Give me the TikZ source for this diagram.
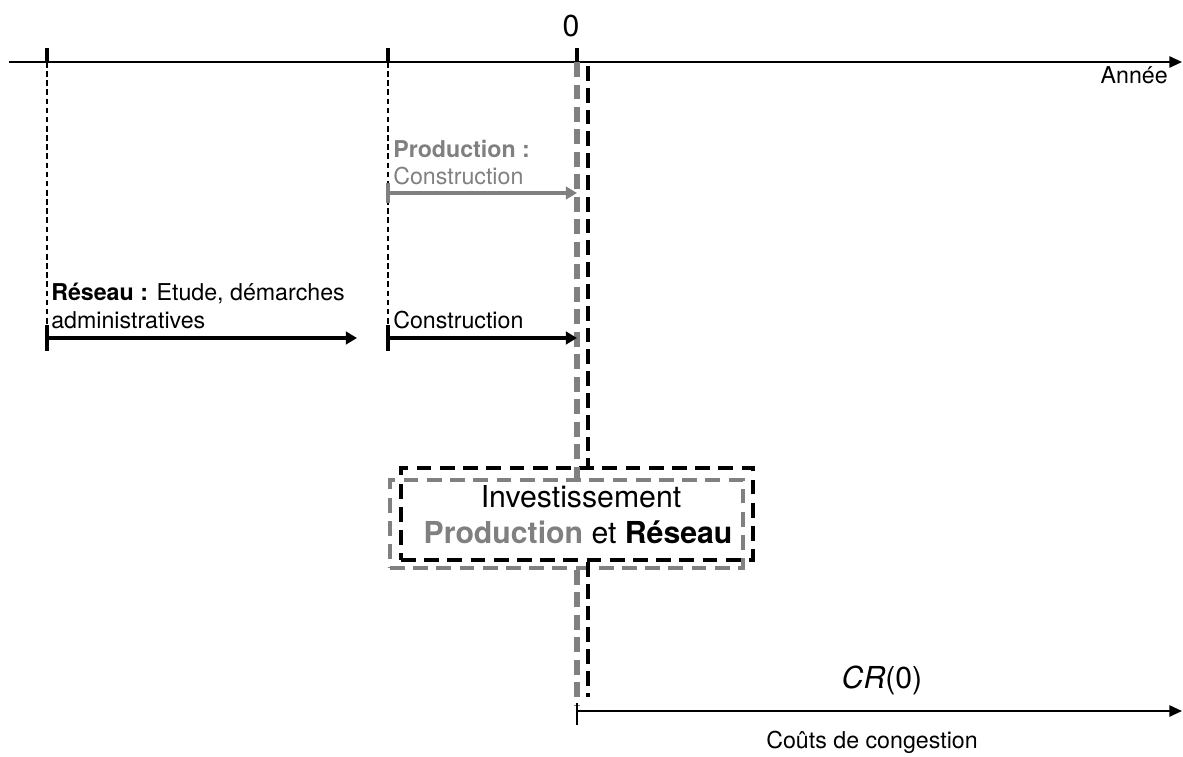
\documentclass[tikz,border=0pt]{standalone}
\usepackage{fontspec}
\setmainfont{TeX Gyre Heros}
\usetikzlibrary{arrows.meta,positioning,calc}

\begin{document}
\begin{tikzpicture}[x=0.025cm, y=-0.025cm,
        axisline/.style={line width=1.4pt, -{Triangle[length=9pt, width=8pt]}},
        phasearr/.style={line width=2.6pt, -{Triangle[length=8pt, width=9pt]}},
        tickmark/.style={line width=2.2pt},
        guide/.style={line width=1.6pt, dash pattern=on 4pt off 2.5pt},
        zerogray/.style={draw=gray, line width=3.6pt, dash pattern=on 10.5pt off 5.5pt},
        zeroblk/.style={draw=black, line width=2.8pt, dash pattern=on 10.5pt off 5pt},
        grybox/.style={rectangle, draw=gray, line width=2.8pt, dash pattern=on 10.5pt off 6pt,
                       minimum width=8.825cm, minimum height=2.2cm, inner sep=0pt},
        blkbox/.style={rectangle, draw=black, line width=2.8pt, dash pattern=on 10.5pt off 6pt,
                       minimum width=8.8cm, minimum height=2.3cm, inner sep=0pt},
        smalltxt/.style={font=\fontsize{16.5}{19.5}\selectfont, inner sep=0pt},
        bigtxt/.style={font=\fontsize{21.5}{26}\selectfont, inner sep=0pt}
      ]
        \useasboundingbox (0,0) rectangle (1183,756);

        \coordinate (axL) at (9,62);
        \coordinate (axR) at (1182,62);
        \coordinate (ta) at (47,48);
        \coordinate (tb) at (388,48);
        \coordinate (tz) at (577,48);
        \coordinate (zg) at (577,62);
        \coordinate (zb) at (588,66);
        \coordinate (proS) at (388,193);
        \coordinate (proE) at (577,193);
        \coordinate (resS) at (47,338);
        \coordinate (resE) at (357,338);
        \coordinate (conS) at (388,338);
        \coordinate (conE) at (577,338);
        \coordinate (crS) at (577,711);
        \coordinate (crE) at (1182,711);
        \coordinate (zgEnd) at (577,705);
        \coordinate (zbEnd) at (588,697);

        \node[blkbox] (invB) at (577,514) {};
        \node[grybox] (invG) at (566.5,524) {};

        % time axis and ticks
        \draw[axisline] (axL) -- (axR);
        \draw[tickmark] (ta) -- (ta |- axL);
        \draw[tickmark] (tb) -- (tb |- axL);
        \draw[tickmark] (tz) -- (zg);
        \draw[guide] (ta |- axL) -- ($(resS)+(0,-13)$);
        \draw[guide] (tb |- axL) -- ($(conS)+(0,-13)$);
        \node[bigtxt, anchor=base] (zero) at (571,36) {0};
        \node[smalltxt, anchor=base east] (annee) at (1168,83) {Année};

        % year 0
        \draw[zerogray] (zg) -- (zg |- invG.north);
        \draw[zerogray] (zg |- invG.south) -- (zgEnd);
        \draw[zeroblk] (zb) -- (zb |- invB.north);
        \draw[zeroblk] (zb |- invB.south) -- (zbEnd);

        % phases
        \draw[tickmark, gray, line width=2.8pt] ($(proS)+(0,-10)$) -- ($(proS)+(0,10)$);
        \draw[phasearr, gray] (proS) -- (proE);
        \node[smalltxt, anchor=base west, text=gray] (proL1) at (393,157) {\textbf{Production :}};
        \node[smalltxt, anchor=base west, text=gray] (proL2) at (393,184) {Construction};

        \draw[tickmark, line width=2.8pt] ($(resS)+(0,-13)$) -- ($(resS)+(0,13)$);
        \draw[phasearr] (resS) -- (resE);
        \node[smalltxt, anchor=base west] (resL1) at (51,300) {\textbf{Réseau :} Etude, démarches};
        \node[smalltxt, anchor=base west] (resL2) at (51,328) {administratives};

        \draw[tickmark, line width=2.8pt] ($(conS)+(0,-13)$) -- ($(conS)+(0,13)$);
        \draw[phasearr] (conS) -- (conE);
        \node[smalltxt, anchor=base west] (conL) at (393,328) {Construction};

        % investment
        \node[bigtxt, anchor=base] (invL1) at (581,507) {Investissement};
        \node[bigtxt, anchor=base] (invL2) at (578,543) {\textcolor{gray}{\textbf{Production}} et \textbf{Réseau}};

        % congestion costs
        \draw[tickmark, line width=1.6pt] ($(crS)+(0,-8)$) -- ($(crS)+(0,14)$);
        \draw[axisline] (crS) -- (crE);
        \node[bigtxt, anchor=base] (cr) at (882,688) {\textit{CR}(0)};
        \node[smalltxt, anchor=base] (cout) at (872,748) {Coûts de congestion};
      \end{tikzpicture}
\end{document}
